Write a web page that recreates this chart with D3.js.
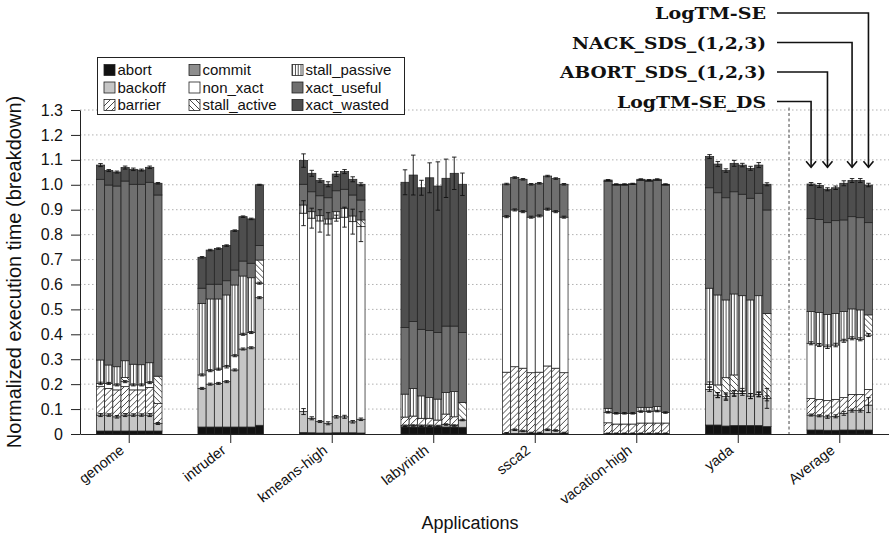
<!DOCTYPE html>
<html>
<head>
<meta charset="utf-8">
<script src="https://cdn.jsdelivr.net/npm/d3@7"></script>
<style>
  html, body { margin: 0; padding: 0; background: #fff; }
  svg { display: block; }
  text { font-family: "Liberation Sans", Arial, Helvetica, sans-serif; fill: #111; }
</style>
</head>
<body>
<svg id="chart" width="889" height="543"></svg>
<script>
// ---- data -------------------------------------------------------------
const applications = ["genome", "intruder", "kmeans-high", "labyrinth", "ssca2", "vacation-high", "yada", "Average"];
const configurations = ["LogTM-SE_DS", "ABORT_SDS_1", "ABORT_SDS_2", "ABORT_SDS_3",
                        "NACK_SDS_1", "NACK_SDS_2", "NACK_SDS_3", "LogTM-SE"];
// stacking order, bottom to top
const components = ["abort", "backoff", "barrier", "non_xact", "stall_active",
                    "stall_passive", "commit", "xact_useful", "xact_wasted"];
// legend is laid out column by column
const legendOrder = ["abort", "backoff", "barrier", "commit", "non_xact",
                     "stall_active", "stall_passive", "xact_useful", "xact_wasted"];

// each array: one row per application, one value per configuration
const abort = [
  [0.012, 0.012, 0.012, 0.012, 0.012, 0.012, 0.012, 0.012],
  [0.028, 0.028, 0.028, 0.028, 0.028, 0.028, 0.028, 0.035],
  [0.006, 0.005, 0.004, 0.004, 0.005, 0.005, 0.005, 0.004],
  [0.028, 0.028, 0.028, 0.028, 0.028, 0.028, 0.028, 0.027],
  [0.000, 0.002, 0.002, 0.001, 0.001, 0.002, 0.002, 0.001],
  [0.000, 0.000, 0.000, 0.000, 0.000, 0.000, 0.000, 0.000],
  [0.036, 0.036, 0.032, 0.034, 0.034, 0.034, 0.034, 0.030],
  [0.016, 0.016, 0.015, 0.015, 0.016, 0.016, 0.016, 0.016]
];
const backoff = [
  [0.064, 0.064, 0.057, 0.064, 0.064, 0.064, 0.064, 0.030],
  [0.155, 0.172, 0.175, 0.182, 0.229, 0.313, 0.318, 0.512],
  [0.084, 0.058, 0.046, 0.039, 0.064, 0.064, 0.044, 0.055],
  [0.005, 0.006, 0.005, 0.005, 0.004, 0.010, 0.006, 0.029],
  [0.003, 0.015, 0.010, 0.003, 0.003, 0.015, 0.012, 0.003],
  [0.002, 0.002, 0.002, 0.002, 0.002, 0.002, 0.002, 0.002],
  [0.143, 0.120, 0.118, 0.129, 0.129, 0.118, 0.125, 0.113],
  [0.060, 0.057, 0.054, 0.056, 0.067, 0.078, 0.078, 0.100]
];
const barrier = [
  [0.114, 0.107, 0.108, 0.114, 0.101, 0.101, 0.111, 0.080],
  [0.000, 0.000, 0.000, 0.000, 0.000, 0.000, 0.000, 0.000],
  [0.000, 0.000, 0.000, 0.000, 0.000, 0.000, 0.000, 0.000],
  [0.035, 0.038, 0.030, 0.030, 0.024, 0.042, 0.035, 0.000],
  [0.245, 0.253, 0.252, 0.242, 0.244, 0.256, 0.250, 0.242],
  [0.043, 0.038, 0.038, 0.038, 0.042, 0.042, 0.042, 0.042],
  [0.000, 0.000, 0.000, 0.000, 0.000, 0.000, 0.000, 0.000],
  [0.067, 0.066, 0.065, 0.068, 0.063, 0.065, 0.065, 0.063]
];
const non_xact = [
  [0.013, 0.020, 0.020, 0.020, 0.020, 0.020, 0.019, 0.000],
  [0.054, 0.054, 0.057, 0.060, 0.057, 0.059, 0.061, 0.058],
  [0.796, 0.803, 0.805, 0.800, 0.797, 0.801, 0.803, 0.773],
  [0.000, 0.000, 0.000, 0.000, 0.000, 0.000, 0.000, 0.000],
  [0.624, 0.629, 0.628, 0.624, 0.627, 0.629, 0.628, 0.624],
  [0.042, 0.043, 0.043, 0.043, 0.046, 0.046, 0.048, 0.042],
  [0.020, 0.000, 0.000, 0.000, 0.010, 0.000, 0.000, 0.000],
  [0.221, 0.218, 0.216, 0.218, 0.228, 0.225, 0.221, 0.218]
];
const stall_active = [
  [0.000, 0.000, 0.000, 0.017, 0.000, 0.000, 0.000, 0.110],
  [0.000, 0.000, 0.000, 0.000, 0.000, 0.000, 0.000, 0.093],
  [0.000, 0.000, 0.000, 0.000, 0.000, 0.000, 0.000, 0.027],
  [0.000, 0.000, 0.000, 0.000, 0.000, 0.000, 0.000, 0.070],
  [0.000, 0.000, 0.000, 0.000, 0.000, 0.000, 0.000, 0.000],
  [0.000, 0.000, 0.000, 0.000, 0.000, 0.000, 0.000, 0.000],
  [0.000, 0.041, 0.076, 0.074, 0.000, 0.000, 0.000, 0.341],
  [0.000, 0.000, 0.000, 0.000, 0.000, 0.000, 0.000, 0.081]
];
const stall_passive = [
  [0.094, 0.074, 0.073, 0.067, 0.083, 0.081, 0.080, 0.000],
  [0.287, 0.288, 0.282, 0.288, 0.284, 0.234, 0.220, 0.000],
  [0.033, 0.026, 0.021, 0.020, 0.026, 0.036, 0.023, 0.000],
  [0.092, 0.111, 0.090, 0.083, 0.084, 0.086, 0.101, 0.000],
  [0.000, 0.000, 0.000, 0.000, 0.000, 0.000, 0.000, 0.000],
  [0.016, 0.000, 0.000, 0.000, 0.017, 0.017, 0.018, 0.000],
  [0.386, 0.361, 0.312, 0.325, 0.382, 0.386, 0.396, 0.000],
  [0.127, 0.131, 0.130, 0.127, 0.117, 0.118, 0.118, 0.000]
];
const commit = [
  [0, 0, 0, 0, 0, 0, 0, 0],
  [0, 0, 0, 0, 0, 0, 0, 0],
  [0, 0, 0, 0, 0, 0, 0, 0],
  [0, 0, 0, 0, 0, 0, 0, 0],
  [0, 0, 0, 0, 0, 0, 0, 0],
  [0, 0, 0, 0, 0, 0, 0, 0],
  [0, 0, 0, 0, 0, 0, 0, 0],
  [0, 0, 0, 0, 0, 0, 0, 0]
];
const xact_useful = [
  [0.725, 0.722, 0.725, 0.721, 0.722, 0.724, 0.724, 0.727],
  [0.061, 0.059, 0.059, 0.057, 0.060, 0.060, 0.058, 0.058],
  [0.083, 0.080, 0.080, 0.085, 0.084, 0.076, 0.084, 0.080],
  [0.267, 0.268, 0.267, 0.269, 0.267, 0.267, 0.263, 0.281],
  [0.131, 0.130, 0.130, 0.132, 0.131, 0.133, 0.133, 0.132],
  [0.911, 0.916, 0.916, 0.918, 0.910, 0.907, 0.907, 0.913],
  [0.403, 0.410, 0.410, 0.410, 0.407, 0.408, 0.411, 0.415],
  [0.374, 0.373, 0.368, 0.372, 0.368, 0.370, 0.370, 0.370]
];
const xact_wasted = [
  [0.057, 0.058, 0.056, 0.054, 0.060, 0.057, 0.060, 0.047],
  [0.124, 0.137, 0.143, 0.141, 0.158, 0.178, 0.178, 0.244],
  [0.095, 0.074, 0.061, 0.054, 0.067, 0.071, 0.063, 0.063],
  [0.583, 0.588, 0.568, 0.613, 0.588, 0.593, 0.613, 0.595],
  [0.000, 0.000, 0.000, 0.000, 0.000, 0.000, 0.000, 0.000],
  [0.005, 0.003, 0.003, 0.003, 0.005, 0.005, 0.005, 0.003],
  [0.125, 0.115, 0.109, 0.114, 0.117, 0.120, 0.113, 0.103],
  [0.138, 0.136, 0.134, 0.132, 0.147, 0.145, 0.149, 0.151]
];

// error half-widths: at the total, at the top of non_xact, at the top of backoff
const errTotal = [
  [0.006, 0.004, 0.004, 0.006, 0.005, 0.004, 0.005, 0.003],
  [0.003, 0.003, 0.003, 0.003, 0.003, 0.003, 0.003, 0.002],
  [0.027, 0.012, 0.007, 0.010, 0.010, 0.008, 0.010, 0.006],
  [0.050, 0.080, 0.030, 0.060, 0.097, 0.077, 0.065, 0.045],
  [0.003, 0.003, 0.003, 0.003, 0.003, 0.003, 0.003, 0.003],
  [0.002, 0.002, 0.002, 0.002, 0.002, 0.002, 0.002, 0.002],
  [0.008, 0.010, 0.007, 0.012, 0.007, 0.008, 0.010, 0.006],
  [0.006, 0.008, 0.006, 0.007, 0.010, 0.008, 0.008, 0.007]
];
const errNonXact = [
  [0.005, 0.004, 0.004, 0.004, 0.004, 0.004, 0.004, 0.000],
  [0.004, 0.004, 0.004, 0.005, 0.004, 0.004, 0.004, 0.004],
  [0.050, 0.040, 0.045, 0.045, 0.012, 0.040, 0.050, 0.060],
  [0.000, 0.000, 0.000, 0.000, 0.000, 0.000, 0.000, 0.000],
  [0.004, 0.004, 0.004, 0.004, 0.004, 0.004, 0.004, 0.004],
  [0.003, 0.003, 0.003, 0.003, 0.003, 0.003, 0.003, 0.003],
  [0.010, 0.010, 0.010, 0.010, 0.010, 0.010, 0.010, 0.010],
  [0.006, 0.006, 0.007, 0.007, 0.006, 0.006, 0.006, 0.006]
];
const errBackoff = [
  [0.006, 0.005, 0.005, 0.006, 0.005, 0.005, 0.006, 0.004],
  [0.004, 0.004, 0.004, 0.004, 0.004, 0.004, 0.004, 0.004],
  [0.012, 0.006, 0.004, 0.006, 0.005, 0.006, 0.005, 0.005],
  [0.003, 0.003, 0.003, 0.003, 0.003, 0.003, 0.003, 0.003],
  [0.003, 0.003, 0.003, 0.003, 0.003, 0.003, 0.003, 0.003],
  [0.002, 0.002, 0.002, 0.002, 0.002, 0.002, 0.002, 0.002],
  [0.008, 0.010, 0.015, 0.012, 0.008, 0.010, 0.008, 0.040],
  [0.004, 0.004, 0.006, 0.006, 0.008, 0.006, 0.006, 0.030]
];

const yTicks = [0, 0.1, 0.2, 0.3, 0.4, 0.5, 0.6, 0.7, 0.8, 0.9, 1.0, 1.1, 1.2, 1.3];
const calloutLabels  = ["LogTM-SE", "NACK_SDS_(1,2,3)", "ABORT_SDS_(1,2,3)", "LogTM-SE_DS"];
const calloutTargets = ["LogTM-SE", "NACK_SDS_2", "ABORT_SDS_2", "LogTM-SE_DS"];
const calloutWidths  = [111, 194, 206, 149];
const xTitle = "Applications";
const yTitle = "Normalized execution time (breakdown)";

// ---- drawing ----------------------------------------------------------
const series = { abort, backoff, barrier, non_xact, stall_active, stall_passive, commit, xact_useful, xact_wasted };

const svg = d3.select("#chart");
const plotLeft = 80, plotRight = 889, plotBottom = 434, plotTop = 110;

const x0 = d3.scaleBand().domain(applications).range([plotLeft, plotRight])
  .paddingInner(0.354).paddingOuter(0.162);
const x1 = d3.scaleBand().domain(configurations).range([0, x0.bandwidth()]).padding(0);
const y = d3.scaleLinear().domain([0, 1.3]).range([plotBottom, plotTop]);

// fills and hatch patterns
const defs = svg.append("defs");
function pattern(id, size, path, width) {
  const p = defs.append("pattern").attr("id", id).attr("patternUnits", "userSpaceOnUse")
    .attr("width", width || size).attr("height", size);
  p.append("rect").attr("width", width || size).attr("height", size).attr("fill", "#fff");
  p.append("path").attr("d", path).attr("stroke", "#1a1a1a").attr("stroke-width", 0.8).attr("fill", "none");
}
pattern("hatch-fwd", 6, "M0,6 L6,0 M-1.5,1.5 L1.5,-1.5 M4.5,7.5 L7.5,4.5");
pattern("hatch-back", 6, "M0,0 L6,6 M-1.5,4.5 L1.5,7.5 M4.5,-1.5 L7.5,1.5");
pattern("vstripe", 6, "M1.4,0 L1.4,6", 2.8);

const fills = {
  abort: "#121212",
  backoff: "#c6c6c6",
  barrier: "url(#hatch-fwd)",
  commit: "#8e8e8e",
  non_xact: "#ffffff",
  stall_active: "url(#hatch-back)",
  stall_passive: "url(#vstripe)",
  xact_useful: "#6f6f6f",
  xact_wasted: "#4e4e4e"
};

// gridlines
svg.append("g").selectAll("line").data(yTicks.filter(d => d > 0)).join("line")
  .attr("x1", plotLeft).attr("x2", plotRight)
  .attr("y1", d => y(d)).attr("y2", d => y(d))
  .attr("stroke", "#a8a8a8").attr("stroke-width", 0.9).attr("stroke-dasharray", "1.5,2.5");

// separator before the average group
const sepX = x0("Average") - x0.step() * x0.paddingInner() / 2;
svg.append("line").attr("x1", sepX).attr("x2", sepX)
  .attr("y1", y(1.31)).attr("y2", plotBottom)
  .attr("stroke", "#444").attr("stroke-width", 1).attr("stroke-dasharray", "3,2.5");

// stacked bars
const rows = [];
applications.forEach((app, gi) => {
  configurations.forEach((cfg, ci) => {
    let cum = 0;
    const segs = components.map(comp => {
      const v = series[comp][gi][ci];
      const s = { app, cfg, comp, y0: cum, y1: cum + v, v };
      cum += v;
      return s;
    });
    const upTo = name => segs.find(s => s.comp === name).y1;
    rows.push({ app, cfg, gi, ci, segs, total: cum,
      errs: [
        { at: upTo("backoff"), e: errBackoff[gi][ci] },
        { at: upTo("non_xact"), e: errNonXact[gi][ci] },
        { at: cum, e: errTotal[gi][ci] }
      ] });
  });
});

const barG = svg.append("g").selectAll("g").data(rows).join("g")
  .attr("transform", d => `translate(${x0(d.app) + x1(d.cfg)},0)`);

barG.selectAll("rect").data(d => d.segs.filter(s => s.v > 0)).join("rect")
  .attr("x", 0).attr("width", x1.bandwidth())
  .attr("y", s => y(s.y1)).attr("height", s => y(s.y0) - y(s.y1))
  .attr("fill", s => fills[s.comp])
  .attr("stroke", "#222").attr("stroke-width", 0.75);

// error bars
const capW = 4.5;
barG.selectAll("g.err").data(d => d.errs.filter(e => e.e > 0)).join("g").attr("class", "err")
  .each(function (e) {
    const g = d3.select(this), cx = x1.bandwidth() / 2;
    const yHi = y(e.at + e.e), yLo = y(e.at - e.e);
    g.append("line").attr("x1", cx).attr("x2", cx).attr("y1", yHi).attr("y2", yLo);
    g.append("line").attr("x1", cx - capW / 2).attr("x2", cx + capW / 2).attr("y1", yHi).attr("y2", yHi);
    g.append("line").attr("x1", cx - capW / 2).attr("x2", cx + capW / 2).attr("y1", yLo).attr("y2", yLo);
  })
  .selectAll("line").attr("stroke", "#111").attr("stroke-width", 0.9);

// axes
const yAxis = svg.append("g").attr("transform", `translate(${plotLeft},0)`)
  .call(d3.axisLeft(y).tickValues(yTicks).tickSize(9).tickSizeOuter(0).tickPadding(8)
    .tickFormat(d => d === 0 ? "0" : d3.format(".1f")(d)));
yAxis.selectAll("text").attr("font-size", 16).attr("fill", "#111")
  .style("font-family", "'Liberation Sans', Arial, sans-serif");
yAxis.selectAll("line, path").attr("stroke", "#222");

const xAxis = svg.append("g").attr("transform", `translate(0,${plotBottom})`)
  .call(d3.axisBottom(x0).tickSize(9).tickSizeOuter(0));
xAxis.selectAll("line, path").attr("stroke", "#222");
xAxis.selectAll("text")
  .attr("font-size", 14.5).attr("fill", "#111")
  .style("font-family", "'Liberation Sans', Arial, sans-serif")
  .attr("text-anchor", "end")
  .attr("x", 0).attr("y", 0).attr("dy", 0)
  .attr("transform", "translate(-4,18) rotate(-38)");

// axis titles
svg.append("text").attr("x", 470).attr("y", 529)
  .attr("text-anchor", "middle").attr("font-size", 18).text(xTitle);
svg.append("text").attr("transform", "translate(21,272) rotate(-90)")
  .attr("text-anchor", "middle").attr("font-size", 20).text(yTitle);

// legend
const legend = svg.append("g");
legend.append("rect").attr("x", 97.5).attr("y", 57.5).attr("width", 307).attr("height", 57)
  .attr("fill", "#fff").attr("stroke", "#222").attr("stroke-width", 1);
const colX = [104, 189, 292];
legendOrder.forEach((comp, i) => {
  const col = Math.floor(i / 3), row = i % 3;
  const gx = colX[col], gy = 64.5 + row * 17.5;
  legend.append("rect").attr("x", gx).attr("y", gy).attr("width", 11).attr("height", 11)
    .attr("fill", fills[comp]).attr("stroke", "#222").attr("stroke-width", 0.8);
  legend.append("text").attr("x", gx + 13.5).attr("y", gy + 10.5)
    .attr("font-size", 15).text(comp);
});

// configuration callouts over the average group
const labelRight = 766, lineStart = 777, arrowTip = y(1.07);
calloutLabels.forEach((lab, i) => {
  const baseY = 19 + i * 29.5;
  const lineY = baseY - 6;
  const tx = x0("Average") + x1(calloutTargets[i]) + x1.bandwidth() / 2;
  svg.append("text").attr("x", labelRight).attr("y", baseY)
    .attr("text-anchor", "end")
    .attr("textLength", calloutWidths[i]).attr("lengthAdjust", "spacingAndGlyphs")
    .style("font-family", "'DejaVu Serif', 'Liberation Serif', serif")
    .attr("font-weight", "bold").attr("font-size", 16.5).text(lab);
  svg.append("path")
    .attr("d", `M${lineStart},${lineY} H${tx} V${arrowTip}`)
    .attr("fill", "none").attr("stroke", "#111").attr("stroke-width", 1.6);
  svg.append("path")
    .attr("d", `M${tx - 5},${arrowTip - 6} L${tx},${arrowTip} L${tx + 5},${arrowTip - 6}`)
    .attr("fill", "none").attr("stroke", "#111").attr("stroke-width", 1.6);
});
</script>
</body>
</html>
